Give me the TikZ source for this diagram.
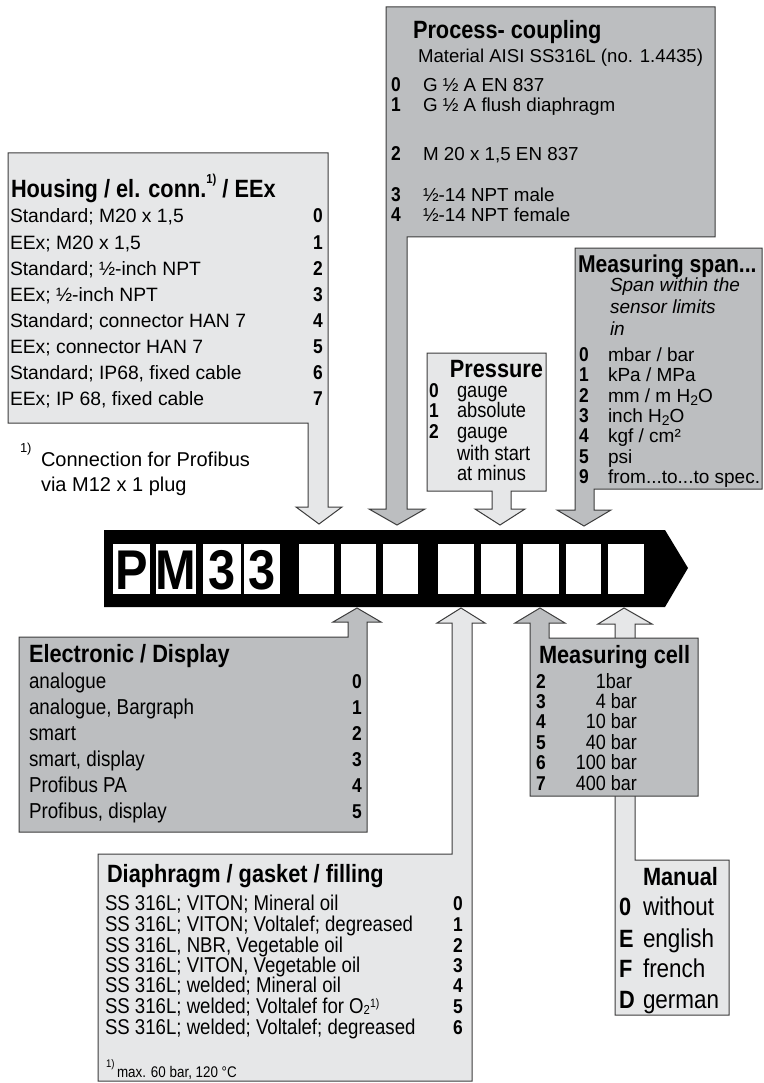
\documentclass[tikz,border=0pt]{standalone}
\usepackage{fontspec}
\setmainfont{Liberation Sans}
\newfontfamily\cf{Liberation Sans}[FakeStretch=0.87]
\definecolor{lg}{HTML}{E6E7E8}
\definecolor{mg}{HTML}{BCBEC0}
\definecolor{bd}{HTML}{3C3C3C}
\newcommand{\sub}[1]{\smash{\raisebox{-0.35ex}{\fontsize{14}{14}\selectfont #1}}}
\newcommand{\subd}[1]{\smash{\raisebox{-0.15ex}{\fontsize{13}{13}\selectfont #1}}}
\tikzset{
  shp/.style={draw=bd, line width=1pt, line join=miter},
  tx/.style={anchor=base west, inner sep=0pt, outer sep=0pt},
  ttl/.style={tx, font=\cf\bfseries\fontsize{25}{28}\selectfont},
  hitem/.style={tx, font=\fontsize{19.3}{22}\selectfont},
  citem/.style={tx, font=\cf\fontsize{21}{24}\selectfont},
  hnum/.style={anchor=base, inner sep=0pt, font=\cf\bfseries\fontsize{20}{22}\selectfont},
  lnum/.style={anchor=base west, inner sep=0pt, font=\cf\bfseries\fontsize{20}{22}\selectfont},
  big/.style={anchor=base, inner sep=0pt, font=\cf\bfseries\fontsize{56}{60}\selectfont},
}
\begin{document}
\begin{tikzpicture}[x=1pt,y=-1pt]
\useasboundingbox (0,0) rectangle (763,1083);

% ---------- shapes ----------
% Housing
\draw[shp, fill=lg] (8,153) -- (328,153) -- (328,507) -- (342,507) -- (319,524) -- (296,507) -- (308,507) -- (308,423) -- (8,423) -- cycle;
% Process coupling
\draw[shp, fill=mg] (386,7) -- (715,7) -- (715,237) -- (407,237) -- (407,509) -- (425,509) -- (397,525) -- (369,509) -- (386,509) -- cycle;
% Pressure
\draw[shp, fill=lg] (427,353) -- (546,353) -- (546,491) -- (511,491) -- (511,509) -- (525,509) -- (500,525) -- (475,509) -- (492,509) -- (492,491) -- (427,491) -- cycle;
% Measuring span
\draw[shp, fill=mg] (575,248) -- (762,248) -- (762,489) -- (594,489) -- (594,510) -- (611,510) -- (584,526) -- (557,510) -- (575,510) -- cycle;
% Electronic
\draw[shp, fill=mg] (19,637) -- (348,637) -- (348,622) -- (333,622) -- (357,608) -- (381,622) -- (367,622) -- (367,832) -- (19,832) -- cycle;
% Diaphragm
\draw[shp, fill=lg] (98,854) -- (452,854) -- (452,623) -- (437,623) -- (461,608) -- (485,623) -- (472,623) -- (472,1081) -- (98,1081) -- cycle;
% Manual
\draw[shp, fill=lg] (615,1015) -- (615,624) -- (598,624) -- (624,608) -- (652,624) -- (635,624) -- (635,860) -- (729,860) -- (729,1015) -- cycle;
% Measuring cell
\draw[shp, fill=mg] (530,796) -- (530,623) -- (515,623) -- (540,608) -- (565,623) -- (549,623) -- (549,638) -- (698,638) -- (698,796) -- cycle;

% ---------- code bar ----------
\fill[black] (104,530) -- (665,530) -- (688,568) -- (665,607) -- (104,607) -- cycle;
\foreach \a/\b in {113/150,156/196,203/241,244/280,299/334,341/376,383/418,438/474,481/516,523/559,566/601,608/644}
  \fill[white] (\a,544) rectangle (\b,594);
\node[big] (cP) at (131.5,589) {P};
\node[big] (cM) at (176,589) {M};
\node[big] (c3a) at (222,589) {3};
\node[big] (c3b) at (262,589) {3};

% ---------- Housing text ----------
\node[ttl] (hT) at (11,198) {Housing / el. conn.\raisebox{1.1ex}{\fontsize{13}{13}\selectfont 1)} / EEx};
\foreach \t [count=\i from 0] in {Standard; M20 x 1{,}5, EEx; M20 x 1{,}5, Standard; ½-inch NPT, EEx; ½-inch NPT, Standard; connector HAN 7, EEx; connector HAN 7, Standard; IP68{,} fixed cable, EEx; IP 68{,} fixed cable}{
  \node[hitem] (h\i) at (10,223+26*\i) {\t};
  \node[hnum] (hn\i) at (318,223+26*\i) {\i};
}
\node[tx, font=\fontsize{13}{13}\selectfont] (fn1) at (20,452) {1)};
\node[hitem, font=\fontsize{20}{22}\selectfont] (fn2) at (41,466) {Connection for Profibus};
\node[hitem, font=\fontsize{20}{22}\selectfont] (fn3) at (41,491) {via M12 x 1 plug};

% ---------- Process coupling text ----------
\node[ttl] (pT) at (413,39) {Process- coupling};
\node[hitem, font=\fontsize{18.6}{20}\selectfont] (pM) at (418,63) {Material AISI SS316L (no. 1.4435)};
\foreach \n/\t/\y in {0/{G ½ A EN 837}/92, 1/{G ½ A flush diaphragm}/112, 2/{M 20 x 1,5 EN 837}/161, 3/{½-14 NPT male}/202, 4/{½-14 NPT female}/222}{
  \node[lnum] (pn\n) at (391,\y) {\n};
  \node[hitem, font=\fontsize{18.8}{20}\selectfont] (p\n) at (423,\y) {\t};
}

% ---------- Pressure text ----------
\node[ttl, anchor=base east] (prT) at (543,377) {Pressure};
\foreach \n/\y in {0/397,1/417,2/438}
  \node[lnum] (prn\n) at (429,\y) {\n};
\foreach \t/\y [count=\i] in {gauge/397, absolute/417, gauge/438, with start/460, at minus/480}
  \node[citem] (pr\i) at (457,\y) {\t};

% ---------- Measuring span text ----------
\node[ttl, font=\cf\bfseries\fontsize{24.3}{26}\selectfont] (sT) at (578,272) {Measuring span...};
\foreach \t/\y [count=\i] in {Span within the/291, sensor limits/313, in/335}
  \node[hitem, font=\itshape\fontsize{19}{20}\selectfont] (si\i) at (610,\y) {\t};
\foreach \n/\t/\y in {0/{mbar / bar}/361, 1/{kPa / MPa}/381, 2/{mm / m H\sub{2}O}/402, 3/{inch H\sub{2}O}/422, 4/{kgf / cm²}/442, 5/{psi}/463, 9/{from...to...to spec.}/483}{
  \node[lnum] (sn\n) at (579,\y) {\n};
  \node[hitem, font=\fontsize{19}{20}\selectfont] (s\n) at (608,\y) {\t};
}

% ---------- Electronic text ----------
\node[ttl] (eT) at (29,662) {Electronic / Display};
\foreach \t [count=\i from 0] in {analogue, analogue{,} Bargraph, smart, smart{,} display, Profibus PA, Profibus{,} display}{
  \node[citem, font=\cf\fontsize{21.6}{22}\selectfont] (e\i) at (29,688+26*\i) {\t};
  \node[hnum] (en\i) at (357,688+26*\i) {\i};
}

% ---------- Diaphragm text ----------
\node[ttl] (dT) at (107,882) {Diaphragm / gasket / filling};
\foreach \t/\y [count=\i from 0] in {{SS 316L; VITON; Mineral oil}/910, {SS 316L; VITON; Voltalef; degreased}/931, {SS 316L, NBR, Vegetable oil}/952, {SS 316L; VITON, Vegetable oil}/972, {SS 316L; welded; Mineral oil}/992, {SS 316L; welded; Voltalef for O\subd{2}\smash{\raisebox{0.45ex}{\fontsize{12}{12}\selectfont 1)}}}/1013, {SS 316L; welded; Voltalef; degreased}/1034}{
  \node[citem, font=\cf\fontsize{21.4}{22}\selectfont] (d\i) at (105,\y) {\t};
  \node[hnum] (dn\i) at (458,\y) {\i};
}
\node[tx, font=\cf\fontsize{11}{11}\selectfont] (dfa) at (106,1067) {1)};
\node[tx, font=\cf\fontsize{15.4}{16}\selectfont] (dfb) at (117,1077) {max. 60 bar, 120 °C};

% ---------- Measuring cell text ----------
\node[ttl] (cT) at (539,663) {Measuring cell};
\foreach \n/\t/\x/\y in {2/{1bar}/632/688, 3/{4 bar}/637/708, 4/{10 bar}/637/728, 5/{40 bar}/637/749, 6/{100 bar}/637/769, 7/{400 bar}/637/790}{
  \node[lnum] (cn\n) at (536,\y) {\n};
  \node[citem, anchor=base east, font=\cf\fontsize{20.7}{22}\selectfont] (c\n) at (\x,\y) {\t};
}

% ---------- Manual text ----------
\node[ttl] (mT) at (643,885) {Manual};
\foreach \n/\t/\y in {0/without/915, E/english/947, F/french/977, D/german/1008}{
  \node[lnum, font=\cf\bfseries\fontsize{25}{26}\selectfont] (mn\n) at (619,\y) {\n};
  \node[citem, font=\cf\fontsize{25.8}{26}\selectfont] (m\n) at (643,\y) {\t};
}
\end{tikzpicture}
\end{document}
